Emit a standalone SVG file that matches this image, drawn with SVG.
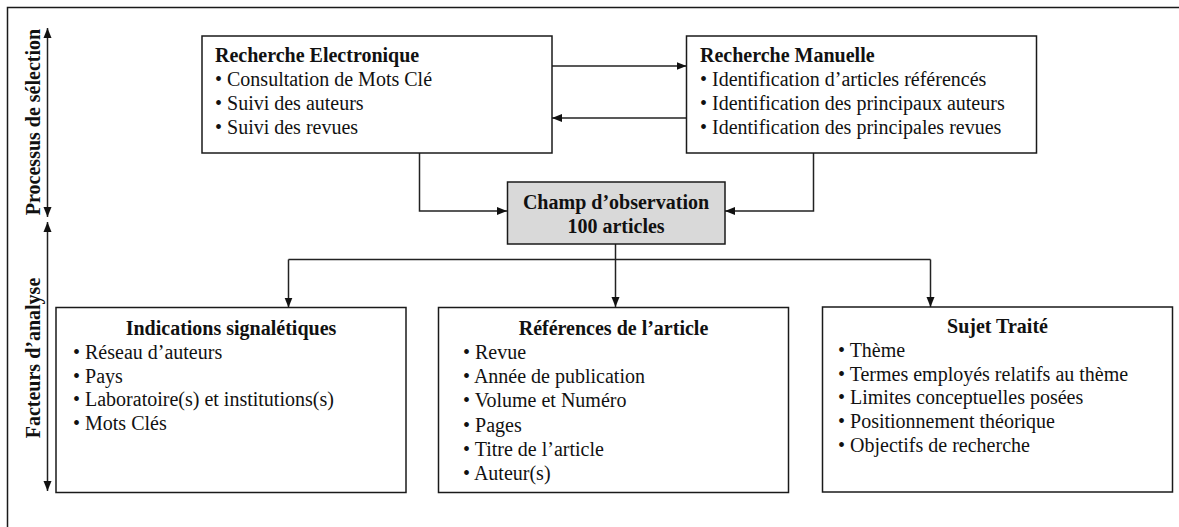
<svg xmlns="http://www.w3.org/2000/svg" width="1179" height="527" viewBox="0 0 1179 527">
  <style>
    .box { fill: #ffffff; stroke: #1a1a1a; stroke-width: 1.5; }
    .hub { fill: #d9d9d9; stroke: #1a1a1a; stroke-width: 1.5; }
    .frame { fill: none; stroke: #1a1a1a; stroke-width: 1.5; }
    .wire { fill: none; stroke: #222222; stroke-width: 1.5; }
    text { font-family: "Liberation Serif", "Times New Roman", serif; font-size: 20px; fill: #111111; }
    .b { font-weight: bold; }
    .c { text-anchor: middle; }
  </style>
  <defs>
    <marker id="arrow" viewBox="0 0 10 10" refX="10" refY="5" markerWidth="10" markerHeight="10" markerUnits="userSpaceOnUse" orient="auto">
      <path d="M0,1 L10,5 L0,9 Z" fill="#111111"/>
    </marker>
    <marker id="arrowStart" viewBox="0 0 10 10" refX="0" refY="5" markerWidth="10" markerHeight="10" markerUnits="userSpaceOnUse" orient="auto">
      <path d="M10,1 L0,5 L10,9 Z" fill="#111111"/>
    </marker>
  </defs>

  <rect x="0" y="0" width="1179" height="527" fill="#ffffff"/>
  <!-- outer frame, open beyond the right and bottom edges -->
  <rect class="frame" x="7.5" y="7.5" width="1200" height="600"/>

  <!-- side axes -->
  <g id="axes">
    <line class="wire" x1="47.5" y1="28" x2="47.5" y2="217" marker-start="url(#arrowStart)" marker-end="url(#arrow)"/>
    <line class="wire" x1="47.5" y1="222" x2="47.5" y2="491" marker-start="url(#arrowStart)" marker-end="url(#arrow)"/>
    <text class="b c" transform="translate(40,122) rotate(-90)">Processus de sélection</text>
    <text class="b c" transform="translate(40,358) rotate(-90)">Facteurs d’analyse</text>
  </g>

  <!-- connectors -->
  <g id="connectors">
    <line class="wire" x1="552" y1="66" x2="686.5" y2="66" marker-end="url(#arrow)"/>
    <line class="wire" x1="686.5" y1="118" x2="552" y2="118" marker-end="url(#arrow)"/>
    <polyline class="wire" points="419.5,153 419.5,211 507,211" marker-end="url(#arrow)"/>
    <polyline class="wire" points="813.5,153 813.5,211 725,211" marker-end="url(#arrow)"/>
    <line class="wire" x1="615.5" y1="244" x2="615.5" y2="307" marker-end="url(#arrow)"/>
    <line class="wire" x1="288.5" y1="259.5" x2="930.5" y2="259.5"/>
    <line class="wire" x1="288.5" y1="259.5" x2="288.5" y2="307.5" marker-end="url(#arrow)"/>
    <line class="wire" x1="930.5" y1="259.5" x2="930.5" y2="307" marker-end="url(#arrow)"/>
  </g>

  <g id="recherche-electronique">
    <rect class="box" x="202" y="36" width="350" height="117"/>
    <text class="b" x="215" y="62">Recherche Electronique</text>
    <text x="215" y="86">• Consultation de Mots Clé</text>
    <text x="215" y="110">• Suivi des auteurs</text>
    <text x="215" y="134">• Suivi des revues</text>
  </g>

  <g id="recherche-manuelle">
    <rect class="box" x="686.5" y="36" width="350" height="117"/>
    <text class="b" x="700" y="62">Recherche Manuelle</text>
    <text x="700" y="86">• Identification d’articles référencés</text>
    <text x="700" y="110">• Identification des principaux auteurs</text>
    <text x="700" y="134">• Identification des principales revues</text>
  </g>

  <g id="champ-observation">
    <rect class="hub" x="507.5" y="182" width="217.5" height="62"/>
    <text class="b c" x="616" y="208.5">Champ d’observation</text>
    <text class="b c" x="616" y="233">100 articles</text>
  </g>

  <g id="indications-signaletiques">
    <rect class="box" x="56" y="307.5" width="350" height="185"/>
    <text class="b c" x="231" y="335">Indications signalétiques</text>
    <text x="73" y="359">• Réseau d’auteurs</text>
    <text x="73" y="383">• Pays</text>
    <text x="73" y="406">• Laboratoire(s) et institutions(s)</text>
    <text x="73" y="430">• Mots Clés</text>
  </g>

  <g id="references-article">
    <rect class="box" x="438.5" y="307.5" width="350" height="185"/>
    <text class="b c" x="613.5" y="335">Références de l’article</text>
    <text x="463" y="358.5">• Revue</text>
    <text x="463" y="383">• Année de publication</text>
    <text x="463" y="407">• Volume et Numéro</text>
    <text x="463" y="431.5">• Pages</text>
    <text x="463" y="455.5">• Titre de l’article</text>
    <text x="463" y="480">• Auteur(s)</text>
  </g>

  <g id="sujet-traite">
    <rect class="box" x="822.5" y="307" width="350" height="185"/>
    <text class="b c" x="997.5" y="333">Sujet Traité</text>
    <text x="838" y="357">• Thème</text>
    <text x="838" y="380.5">• Termes employés relatifs au thème</text>
    <text x="838" y="404">• Limites conceptuelles posées</text>
    <text x="838" y="428">• Positionnement théorique</text>
    <text x="838" y="452">• Objectifs de recherche</text>
  </g>
</svg>
